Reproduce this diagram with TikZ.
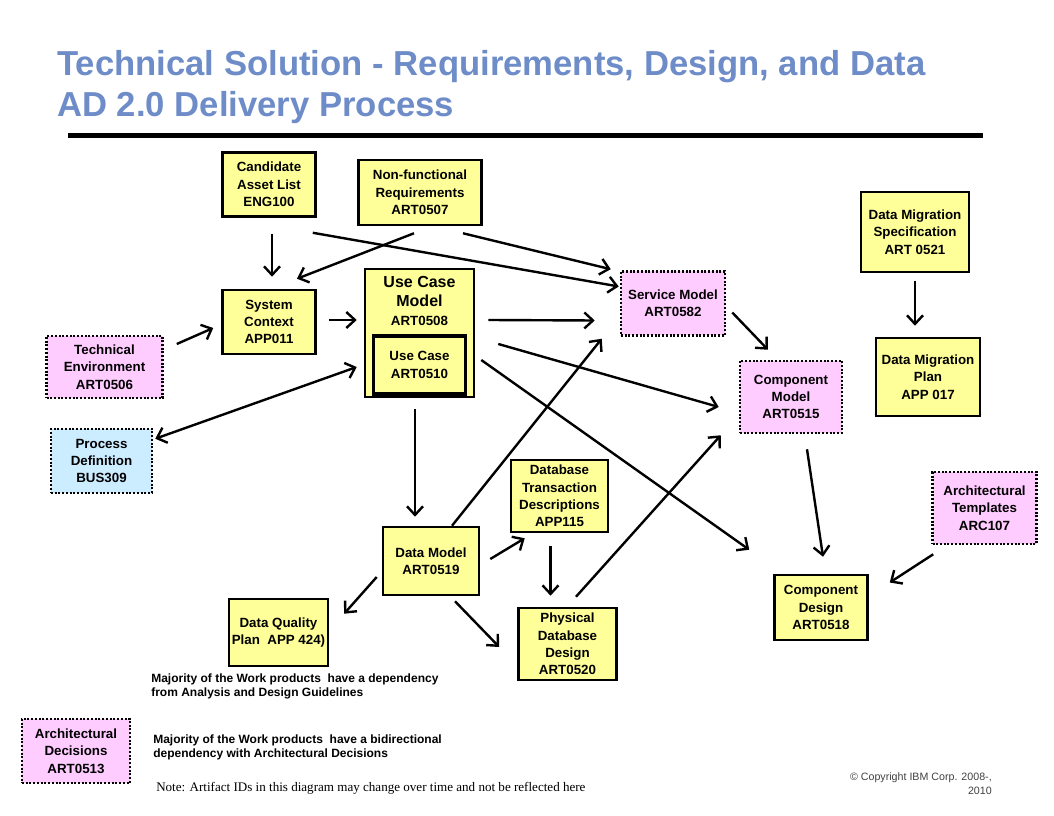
\documentclass[tikz,border=0pt]{standalone}
\usepackage{fontspec}
\setmainfont{Liberation Sans}
\newfontfamily\idfont{Liberation Serif}
\usetikzlibrary{arrows.meta}
\definecolor{TitleBlue}{HTML}{6E8CC8}
\definecolor{WpYellow}{HTML}{FFFF99}
\definecolor{ExtPink}{HTML}{FFCCFF}
\definecolor{ProcBlue}{HTML}{CCECFF}
\newcommand\wpfont{\fontsize{10}{13}\selectfont\bfseries}

\tikzset{
  wpbox/.style={draw=black, fill=WpYellow, line width=1.9pt, align=center,
                font=\wpfont, inner sep=2pt},
  extbox/.style={wpbox, fill=ExtPink, dash pattern=on 1.5pt off 1.3pt},
  procbox/.style={extbox, fill=ProcBlue},
  wh/.style 2 args={minimum width=#1*0.75pt, minimum height=#2*0.75pt},
  dep/.style={line width=1.8pt, ->},
  titletext/.style={font=\fontsize{26}{30}\selectfont\bfseries,
                    text=TitleBlue, inner sep=0pt},
  remark/.style={font=\fontsize{9}{10.5}\selectfont\bfseries, align=left,
                 inner sep=0pt},
}

\begin{document}
\begin{tikzpicture}[x=0.75pt, y=-0.75pt,
    >={Straight Barb[length=6.5pt,width=12pt]}]
\useasboundingbox (0,0) rectangle (1054,816);

% heading
\node[titletext, anchor=base west] (ttl1) at (57,76)
  {Technical Solution - Requirements, Design, and Data};
\node[titletext, anchor=base west] (ttl2) at (57,117)
  {AD 2.0 Delivery Process};
\draw[line width=3.75pt] (68,136) -- (983,136);

% work products
\node[wpbox, wh={93}{64}] (cal) at (269,184.5) {Candidate\\Asset List\\ENG100};
\node[wpbox, wh={123}{65}] (nfr) at (420,192.5) {Non-functional\\Requirements\\ART0507};
\node[wpbox, wh={108}{80}] (dms) at (915,232) {Data Migration\\Specification\\ART 0521};
\node[extbox, wh={104}{64}] (svc) at (673,303.5) {Service Model\\ART0582};
\node[wpbox, wh={93}{64}] (sc) at (269,322) {System\\Context\\APP011};
\node[wpbox, wh={109}{128}] (ucm) at (419.5,333) {};
\node[anchor=north, inner sep=0pt, align=center,
      font=\fontsize{12}{14.25}\selectfont\bfseries] (ucmtxt) at ([yshift=-6pt]ucm.north)
  {Use Case\\Model\\\fontsize{10}{14.25}\selectfont ART0508};
\node[wpbox, wh={92}{58}, line width=2.6pt] (uc) at (419.5,365) {Use Case\\ART0510};
\node[extbox, wh={116}{62}] (te) at (104.5,367) {Technical\\Environment\\ART0506};
\node[wpbox, wh={104}{78}] (dmp) at (928,377) {Data Migration\\Plan\\APP 017};
\node[extbox, wh={102}{72}] (cm) at (791,397) {Component\\Model\\ART0515};
\node[procbox, wh={101}{64}] (pd) at (101.5,461) {Process\\Definition\\BUS309};
\node[wpbox, wh={97}{72}] (dbt) at (559.5,496) {Database\\Transaction\\Descriptions\\APP115};
\node[extbox, wh={104}{72}] (archtpl) at (984.5,508) {Architectural\\Templates\\ARC107};
\node[wpbox, wh={96}{68}] (dm) at (431,561) {Data Model\\ART0519};
\node[wpbox, wh={93}{65}] (cd) at (821,607.5) {Component\\Design\\ART0518};
\node[wpbox, wh={96}{67}] (dq) at (278.5,632.5) {Data Quality\\Plan~ APP 424)};
\node[wpbox, wh={98}{72}] (pdb) at (567.5,644) {Physical\\Database\\Design\\ART0520};
\node[extbox, wh={108}{64}] (archdec) at (76,751) {Architectural\\Decisions\\ART0513};

% dependencies
\draw[dep] ([shift={(3,16)}]cal.south) -- ([shift={(3,-12)}]sc.north);
\draw[dep] ([shift={(-6,7)}]nfr.south) -- ([shift={(28,-10)}]sc.north);
\draw[dep] ([shift={(-4,15)}]cal.south east) -- ([shift={(-1,-17)}]svc.west);
\draw[dep] ([shift={(43,7)}]nfr.south) -- ([shift={(-9,-1)}]svc.north west);
\draw[dep] ([shift={(12,-2)}]sc.east) -- ([shift={(-7,-13)}]ucm.west);
\draw[dep] ([shift={(13,-23)}]te.east) -- ([shift={(-8,6)}]sc.west);
\draw[dep, <->] ([shift={(2,11)}]pd.north east) -- ([shift={(-7,34)}]ucm.west);
\draw[dep] ([shift={(13,-13)}]ucm.east) -- ([shift={(-25,17)}]svc.west);
\draw[dep] ([shift={(23,11)}]ucm.east) -- ([shift={(-20,10)}]cm.west);
\draw[dep] ([shift={(6,27)}]ucm.east) -- ([shift={(-24,-24)}]cd.north west);
\draw[dep] ([shift={(-4.5,11)}]ucm.south) -- ([shift={(-16,-9)}]dm.north);
\draw[dep] ([shift={(21,0)}]dm.north) -- ([shift={(-18,2)}]svc.south west);
\draw[dep] ([shift={(6,9)}]svc.east) -- ([shift={(-23,-10)}]cm.north);
\draw[dep] ([shift={(0,8)}]dms.south) -- ([shift={(-13,-11)}]dmp.north);
\draw[dep] ([shift={(10,-2)}]dm.east) -- ([shift={(15,5)}]dbt.south west);
\draw[dep] ([shift={(-5,16)}]dm.west) -- ([shift={(15,16)}]dq.north east);
\draw[dep] ([shift={(24,5)}]dm.south) -- ([shift={(-18,3)}]pdb.west);
\draw[dep] ([shift={(-9,13)}]dbt.south) -- ([shift={(-17,-11)}]pdb.north);
\draw[dep] ([shift={(8.5,-10)}]pdb.north) -- ([shift={(-18,1)}]cm.south west);
\draw[dep] ([shift={(16,15)}]cm.south) -- ([shift={(2,-17)}]cd.north);
\draw[dep] ([shift={(2,9)}]archtpl.south west) -- ([shift={(21,-25)}]cd.east);

% remarks
\node[remark, anchor=north west] (deps) at (151,674)
  {Majority of the Work products~ have a dependency\\from Analysis and Design Guidelines};
\node[remark, anchor=north west] (bidir) at (153,735)
  {Majority of the Work products~ have a bidirectional\\dependency with Architectural Decisions};
\node[anchor=north west, inner sep=0pt, font=\idfont\fontsize{9.8}{11}\selectfont] (idnote) at (156,782)
  {Note: Artifact IDs in this diagram may change over time and not be reflected here};
\node[anchor=north east, inner sep=0pt, align=right, text=black!75,
      font=\fontsize{8}{10.5}\selectfont] (copy) at (992,773)
  {© Copyright IBM Corp. 2008-,\\2010};
\end{tikzpicture}
\end{document}
